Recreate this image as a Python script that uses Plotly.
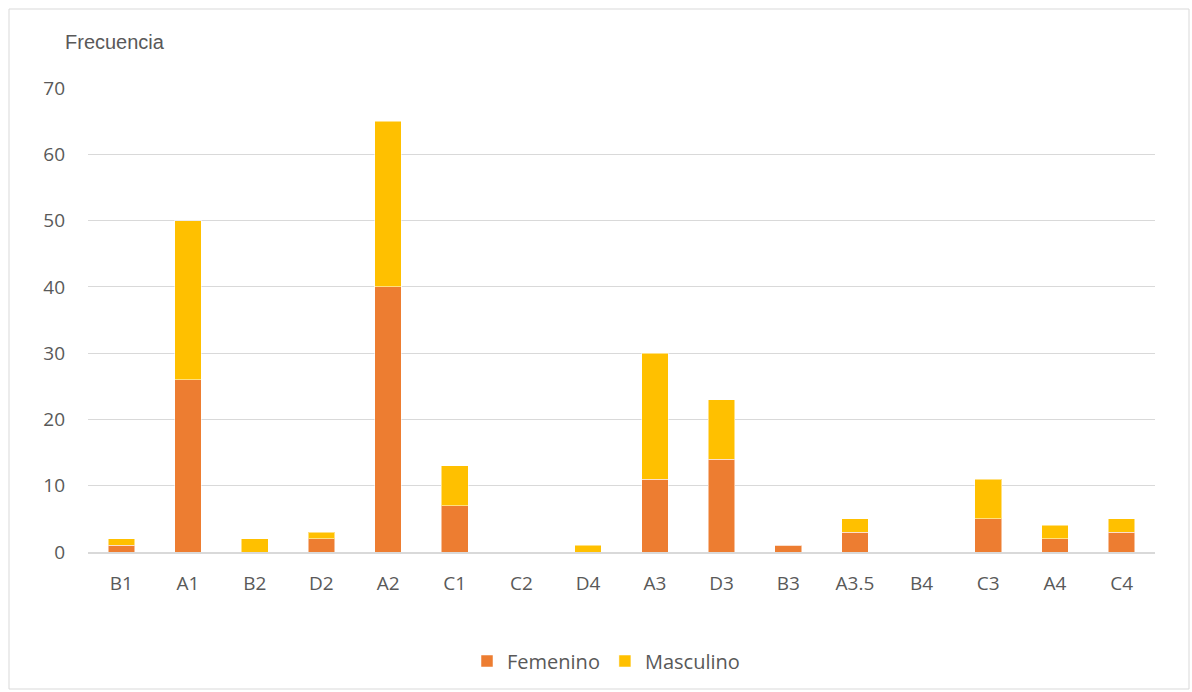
import plotly.graph_objects as go

categorias = ["B1", "A1", "B2", "D2", "A2", "C1", "C2", "D4", "A3", "D3", "B3", "A3.5", "B4", "C3", "A4", "C4"]
femenino = [1, 26, 0, 2, 40, 7, 0, 0, 11, 14, 1, 3, 0, 5, 2, 3]
masculino = [1, 24, 2, 1, 25, 6, 0, 1, 19, 9, 0, 2, 0, 6, 2, 2]

W, H = 1192, 692
L, R, T, B = 88, 37, 88, 140
pw, ph = W - L - R, H - T - B

fig = go.Figure()
fig.add_trace(go.Bar(x=categorias, y=femenino, name="Femenino",
                     marker=dict(color="#ED7D31", line=dict(color="rgba(255,255,255,0.5)", width=1))))
fig.add_trace(go.Bar(x=categorias, y=masculino, name="Masculino",
                     marker=dict(color="#FFC000", line=dict(color="rgba(255,255,255,0.5)", width=1))))

font_fam = "Open Sans, Liberation Sans, sans-serif"

fig.update_layout(
    width=W, height=H,
    barmode="stack", bargap=0.6,
    margin=dict(l=L, r=R, t=T, b=B),
    paper_bgcolor="white", plot_bgcolor="white",
    font=dict(family=font_fam, color="#595959", size=19),
    showlegend=True,
    legend=dict(orientation="h", x=(606 - L) / pw, xanchor="center", y=(H - 661 - B) / ph, yanchor="middle",
                font=dict(size=20, color="#595959"), traceorder="normal", itemwidth=30),
    xaxis=dict(showgrid=False, showline=True, linecolor="#d9d9d9", linewidth=2,
               ticks="", tickfont=dict(size=19, color="#595959"), ticklabelstandoff=13),
    yaxis=dict(range=[0, 70], dtick=10, showgrid=True, gridcolor="#d9d9d9", gridwidth=1,
               zeroline=False, showline=False, ticks="",
               tickfont=dict(size=19, color="#595959"), ticklabelstandoff=22),
    annotations=[dict(text="Frecuencia", xref="paper", yref="paper",
                      x=(63 - L) / pw, y=(H - 42 - B) / ph, xanchor="left", yanchor="middle",
                      showarrow=False, font=dict(family="Liberation Sans, Arial, sans-serif", size=20, color="#595959"))],
    shapes=[dict(type="rect", xref="paper", yref="paper",
                 x0=(9 - L) / pw, x1=(1189 - L) / pw,
                 y0=(H - 689 - B) / ph, y1=(H - 9 - B) / ph,
                 line=dict(color="#d9d9d9", width=1), fillcolor="rgba(0,0,0,0)", layer="below")],
)

fig.write_html("out.html")
